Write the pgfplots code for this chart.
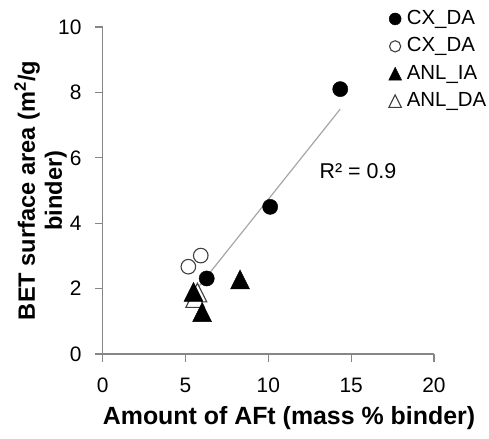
\documentclass[border=0pt]{standalone}
\usepackage{pgfplots}
\pgfplotsset{compat=1.18}
\usepackage{fontspec}
\setmainfont{Liberation Sans}

% isosceles triangle marks as wide as they are tall
\pgfdeclareplotmark{xtri}{%
  \pgfpathmoveto{\pgfqpoint{0pt}{\pgfplotmarksize}}%
  \pgfpathlineto{\pgfqpoint{\pgfplotmarksize}{-\pgfplotmarksize}}%
  \pgfpathlineto{\pgfqpoint{-\pgfplotmarksize}{-\pgfplotmarksize}}%
  \pgfpathclose\pgfusepathqstroke}
\pgfdeclareplotmark{xtri*}{%
  \pgfpathmoveto{\pgfqpoint{0pt}{\pgfplotmarksize}}%
  \pgfpathlineto{\pgfqpoint{\pgfplotmarksize}{-\pgfplotmarksize}}%
  \pgfpathlineto{\pgfqpoint{-\pgfplotmarksize}{-\pgfplotmarksize}}%
  \pgfpathclose\pgfusepathqfillstroke}

% legend key: a single mark of the given size
\pgfplotsset{legmark/.style={legend image code/.code={%
  \draw[##1, mark size=#1] plot coordinates {(0,0)};
  \path (-7bp,0) (7bp,0);}}}

\definecolor{axisgray}{HTML}{868686}
\definecolor{trendgray}{HTML}{A6A6A6}
\definecolor{edgegray}{HTML}{404040}

\begin{document}
\begin{tikzpicture}
\useasboundingbox (0,0) rectangle (489bp,439bp);
\begin{axis}[
  at={(102.7bp,85bp)}, anchor=south west,
  scale only axis, width=331.3bp, height=327bp,
  xmin=0, xmax=20, ymin=0, ymax=10,
  xtick={0,5,10,15,20}, ytick={0,2,4,6,8,10},
  axis x line*=bottom, axis y line*=left,
  axis line style={axisgray, line width=1.2bp, -},
  tick style={axisgray, line width=1.2bp},
  tick align=outside, major tick length=7.5bp,
  /pgf/number format/assume math mode=true,
  ticklabel style={font=\fontsize{21}{25}\selectfont, text=black},
  xticklabel style={anchor=base, inner sep=0pt, yshift=-30.5bp},
  yticklabel style={anchor=east, inner sep=0pt, xshift=-13.5bp},
  xlabel={\textbf{Amount of AFt (mass \% binder)}},
  xlabel style={at={(axis description cs:0.5623,-0.217)}, anchor=base,
    inner sep=0pt, font=\fontsize{25}{30}\selectfont},
  ylabel={\textbf{BET surface area (m\textsuperscript{2}/g}\\\textbf{binder)}},
  ylabel style={at={(axis description cs:-0.1877,0.5)}, anchor=center,
    align=center, inner sep=0pt, font=\fontsize{23.7}{27}\selectfont},
  clip=false,
  legend cell align=left,
  legend style={at={(axis description cs:0.861,1.054)}, anchor=north west,
    draw=none, fill=none, inner sep=0pt, outer sep=0pt,
    font=\fontsize{20.5}{24}\selectfont, row sep=8.2bp,
    nodes={inner sep=0pt, text height=15bp, text depth=4.2bp},
    /tikz/every odd column/.append style={column sep=4.5bp}},
]

% ANL_DA (lies beneath the other series)
\addplot[only marks, mark=xtri*, mark size=9.3bp, forget plot,
  mark options={fill=white, draw=edgegray, line width=1.1bp}]
  coordinates {(5.72,1.88) (5.58,1.71)};

% CX_DA, filled
\addplot[only marks, mark=*, mark size=7.6bp,
  mark options={fill=black, draw=black}, legmark=6bp]
  coordinates {(14.34,8.10) (10.11,4.50) (6.28,2.31)};
\addlegendentry{CX\_DA}

% CX_DA, open
\addplot[only marks, mark=*, mark size=7.3bp,
  mark options={fill=white, draw=edgegray, line width=1.1bp}, legmark=5.6bp]
  coordinates {(5.17,2.67) (5.92,3.01)};
\addlegendentry{CX\_DA}

% ANL_IA
\addplot[only marks, mark=xtri*, mark size=9.5bp,
  mark options={fill=black, draw=black}, legmark=6.5bp]
  coordinates {(8.29,2.28) (5.48,1.90) (6.00,1.28)};
\addlegendentry{ANL\_IA}

% legend key for ANL_DA
\addlegendimage{only marks, mark=xtri*, mark size=6.3bp,
  mark options={fill=white, draw=edgegray, line width=1.1bp}, legmark=6.3bp}
\addlegendentry{ANL\_DA}

% linear trendline
\addplot[trendgray, line width=1.2bp, forget plot]
  coordinates {(5.17,1.66) (14.34,7.49)};

\node[anchor=base west, inner sep=0pt, font=\fontsize{21.5}{25}\selectfont]
  at (axis cs:13.08,5.37) {R² = 0.9};
\end{axis}
\end{tikzpicture}
\end{document}
